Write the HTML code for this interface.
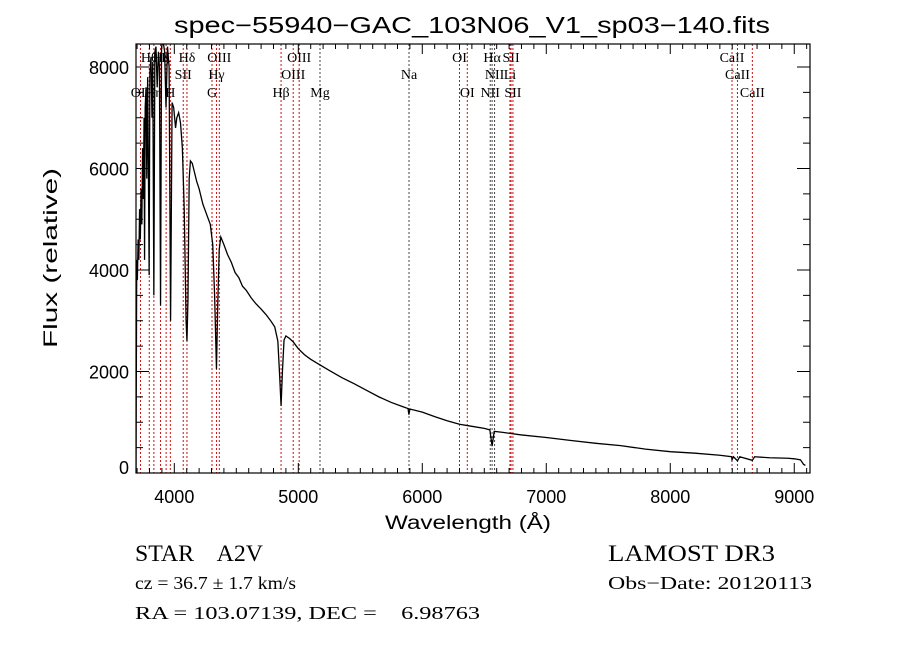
<!DOCTYPE html>
<html><head><meta charset="utf-8"><style>
html,body{margin:0;padding:0;background:#fff;}
svg{display:block;}
</style></head><body>
<svg id="chart" width="900" height="649" viewBox="0 0 900 649" xmlns="http://www.w3.org/2000/svg">
<rect x="0" y="0" width="900" height="649" fill="#fff"/>
<text x="472" y="33" font-family="Liberation Sans, sans-serif" font-size="23" text-anchor="middle" textLength="596" lengthAdjust="spacingAndGlyphs">spec−55940−GAC_103N06_V1_sp03−140.fits</text>
<defs><clipPath id="plotclip"><rect x="136" y="44" width="674" height="429"/></clipPath></defs>
<g id="lines"></g>
<g id="series" clip-path="url(#plotclip)"></g>
<g id="axes"></g>
<text x="0" y="0" transform="translate(57,258) rotate(-90)" font-family="Liberation Sans, sans-serif" font-size="19" text-anchor="middle" textLength="180" lengthAdjust="spacingAndGlyphs">Flux (relative)</text>
<text x="468" y="529" font-family="Liberation Sans, sans-serif" font-size="19" text-anchor="middle" textLength="166" lengthAdjust="spacingAndGlyphs">Wavelength (Å)</text>
<g font-family="Liberation Serif, serif">
<text x="135" y="561" font-size="23" textLength="128" lengthAdjust="spacingAndGlyphs" xml:space="preserve" style="white-space:pre">STAR    A2V</text>
<text x="608" y="561" font-size="23" textLength="167" lengthAdjust="spacingAndGlyphs">LAMOST DR3</text>
<text x="135" y="589" font-size="18" textLength="161" lengthAdjust="spacingAndGlyphs">cz = 36.7 ± 1.7 km/s</text>
<text x="608" y="589" font-size="18" textLength="204" lengthAdjust="spacingAndGlyphs">Obs−Date: 20120113</text>
<text x="135" y="619" font-size="18" textLength="345" lengthAdjust="spacingAndGlyphs" xml:space="preserve" style="white-space:pre">RA = 103.07139, DEC =    6.98763</text>
</g>
</svg>
<script>
const lam = [3691,3693,3697,3702,3708,3714,3720,3726,3732,3738,3744,3750,3756,3760,3765,3772,3778,3785,3791,3797,3803,3812,3820,3826,3835,3843,3852,3862,3872,3880,3889,3897,3910,3922,3933,3945,3958,3970,3982,3995,4010,4020,4035,4050,4065,4080,4095,4102,4110,4120,4130,4145,4160,4180,4200,4230,4260,4290,4310,4325,4340,4350,4362,4375,4400,4430,4460,4490,4520,4550,4580,4620,4660,4700,4740,4780,4810,4835,4850,4861,4872,4885,4900,4930,4960,5000,5050,5100,5175,5250,5350,5450,5550,5650,5750,5850,5885,5892,5900,6000,6100,6200,6300,6400,6500,6545,6563,6580,6650,6800,7000,7200,7400,7600,7800,8000,8200,8400,8495,8498,8510,8542,8560,8662,8680,8800,8950,9000,9050,9075,9090];
const flux = [0,1500,4200,3800,4600,4200,5200,4600,5600,4900,6400,5400,7000,4200,7200,7600,5800,7800,6000,3900,7900,8200,7000,8100,3500,8300,8400,7600,8300,8000,3300,8400,8500,8300,7200,8400,8000,3000,7300,7200,6800,7000,7100,6900,6400,5200,3000,2600,3400,5800,6150,6100,5950,5750,5600,5300,5100,4900,4500,3500,2050,3300,4400,4650,4500,4300,4150,3950,3850,3680,3600,3450,3330,3230,3120,2990,2880,2600,1900,1320,2000,2620,2700,2650,2580,2450,2330,2240,2130,2020,1880,1760,1630,1500,1390,1300,1270,1150,1260,1200,1110,1030,960,920,880,850,530,820,800,750,700,640,585,540,470,420,390,350,320,260,320,240,320,250,320,300,290,280,260,170,150];
const xTickVals = [4000,5000,6000,7000,8000,9000];
const yTickVals = [0,2000,4000,6000,8000];
const lineWaves = [3727,3798,3835,3889,3934,3968,4072,4102,4304,4340,4363,4861,4959,5007,5175,5893,6300,6363,6548,6563,6583,6707,6716,6731,8498,8542,8662];
const lineLabels = ["OII","Hθ","Hη","Hζ","K","H","SII","Hδ","G","Hγ","OIII","Hβ","OIII","OIII","Mg","Na","OI","OI","NII","Hα","NII","Li","SII","SII","CaII","CaII","CaII"];
const lineRows = [3,1,3,1,1,3,2,1,3,2,1,3,2,1,3,2,1,3,3,1,2,2,1,3,1,2,3];
const lineDark = [0,0,0,0,0,0,0,0,0,0,0,0,0,0,1,1,0,0,1,1,1,0,0,0,0,0,0];

const NS="http://www.w3.org/2000/svg";
const X0=136,X1=810,Y0=44,Y1=473, LMIN=3691, LMAX=9127, FMIN=0, FMAX=8453;
function xs(l){return X0+(l-LMIN)/(LMAX-LMIN)*(X1-X0);}
function ys(f){return Y1-(f-FMIN)/(FMAX-FMIN)*(Y1-Y0);}
function mk(tag,attrs,parent){const e=document.createElementNS(NS,tag);for(const k in attrs)e.setAttribute(k,attrs[k]);parent.appendChild(e);return e;}

const gl=document.getElementById('lines');
const rowY={1:62,2:79,3:97};
for(let i=0;i<lineWaves.length;i++){
  const x=xs(lineWaves[i]);
  const ln=mk('line',{x1:x,x2:x,y1:Y0,y2:Y1,stroke:lineDark[i]?'#444':'#cc1111','stroke-width':1,'stroke-dasharray':'2,2'},gl);
  
  
  const t=mk('text',{x:x,y:rowY[lineRows[i]],'font-family':'Liberation Serif, serif','font-size':14,'text-anchor':'middle'},gl);
  t.textContent=lineLabels[i];
  
  
}

const gs=document.getElementById('series');
let d='';
for(let i=0;i<lam.length;i++){d+=(i?'L':'M')+xs(lam[i]).toFixed(2)+','+ys(flux[i]).toFixed(2);}
const p=mk('path',{d:d,fill:'none',stroke:'#000','stroke-width':1.3},gs);



const ga=document.getElementById('axes');
const fr=mk('rect',{x:X0,y:Y0,width:X1-X0,height:Y1-Y0,fill:'none',stroke:'#000','stroke-width':1.2},ga);


for(let l=3700;l<=9100;l+=100){
  const x=xs(l), big=(l%1000===0);
  const len=big?10:5;
  const t1=mk('line',{x1:x,x2:x,y1:Y1,y2:Y1-len,stroke:'#000','stroke-width':1},ga);
  
  
  const t2=mk('line',{x1:x,x2:x,y1:Y0,y2:Y0+len,stroke:'#000','stroke-width':1},ga);
  
  
}
for(const v of xTickVals){
  const t=mk('text',{x:xs(v),y:503,'font-family':'Liberation Sans, sans-serif','font-size':18,'text-anchor':'middle'},ga);
  t.textContent=String(v);
  
  
}
for(let f=0;f<=8000;f+=500){
  const y=ys(f), big=(f%2000===0);
  const len=big?13:7;
  const t1=mk('line',{x1:X0,x2:X0+len,y1:y,y2:y,stroke:'#000','stroke-width':1},ga);
  
  
  const t2=mk('line',{x1:X1,x2:X1-len,y1:y,y2:y,stroke:'#000','stroke-width':1},ga);
  
  
}
for(const v of yTickVals){
  const t=mk('text',{x:129,y:ys(v)+7-(v===0?6:0),'font-family':'Liberation Sans, sans-serif','font-size':18,'text-anchor':'end'},ga);
  t.textContent=String(v);
  
  
}
</script>
</body></html>
